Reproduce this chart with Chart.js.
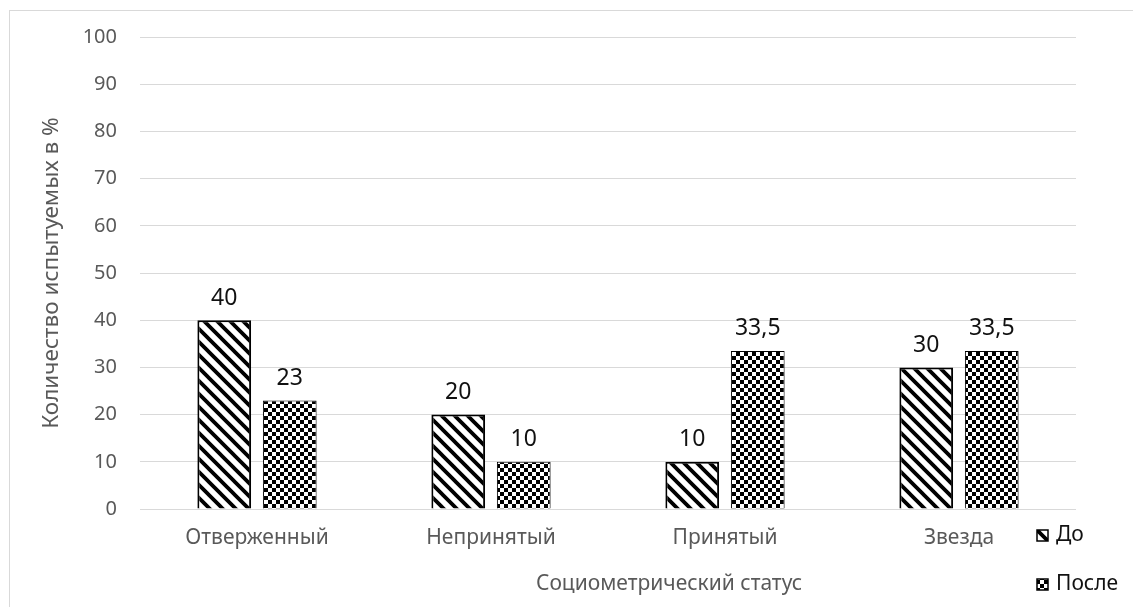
<!DOCTYPE html>
<html>
<head>
<meta charset="utf-8">
<script src="https://cdn.jsdelivr.net/npm/chart.js@4/dist/chart.umd.min.js"></script>
<style>
  body { margin: 0; background: #fff; }
</style>
</head>
<body>
<canvas id="chart" width="1133" height="607"></canvas>
<script>
// данные диаграммы
const categories = ['Отверженный', 'Непринятый', 'Принятый', 'Звезда'];
const seriesNames = ['До', 'После'];
const before = [40, 20, 10, 30];
const after = [23, 10, 33.5, 33.5];
const yTicks = [0, 10, 20, 30, 40, 50, 60, 70, 80, 90, 100];
const xTitle = 'Социометрический статус';
const yTitle = 'Количество испытуемых в %';

const FONT = '"Noto Sans", "DejaVu Sans", sans-serif';

// штриховка "\" для "До"
function stripePattern() {
    const s = 13;
    const c = document.createElement('canvas');
    c.width = s; c.height = s;
    const g = c.getContext('2d');
    g.fillStyle = '#fff';
    g.fillRect(0, 0, s, s);
    g.strokeStyle = '#000';
    g.lineWidth = 3.8;
    g.beginPath();
    for (let k = -1; k <= 1; k++) {
        g.moveTo(-s, -s + k * s);
        g.lineTo(2 * s, 2 * s + k * s);
    }
    g.stroke();
    return g.createPattern(c, 'repeat');
}

// шахматка для "После"
function checkerPattern() {
    const q = 4;
    const c = document.createElement('canvas');
    c.width = q * 2; c.height = q * 2;
    const g = c.getContext('2d');
    g.fillStyle = '#fff';
    g.fillRect(0, 0, q * 2, q * 2);
    g.fillStyle = '#000';
    g.fillRect(0, 0, q, q);
    g.fillRect(q, q, q, q);
    return g.createPattern(c, 'repeat');
}

const ctx = document.getElementById('chart').getContext('2d');
const patterns = [stripePattern(), checkerPattern()];

// рамка, подписи значений, название оси X и легенда
const extras = {
    id: 'extras',
    beforeDraw(chart) {
        const c = chart.ctx;
        c.save();
        c.fillStyle = '#fff';
        c.fillRect(0, 0, chart.width, chart.height);
        c.strokeStyle = '#d9d9d9';
        c.lineWidth = 1;
        c.strokeRect(9.5, 10.5, chart.width + 20, chart.height + 20);
        c.restore();
    },
    afterDatasetsDraw(chart) {
        const c = chart.ctx;
        c.save();
        c.font = '23px ' + FONT;
        c.fillStyle = '#111';
        c.textAlign = 'center';
        c.textBaseline = 'middle';
        chart.data.datasets.forEach((ds, i) => {
            chart.getDatasetMeta(i).data.forEach((bar, j) => {
                const txt = String(ds.data[j]).replace('.', ',');
                c.fillText(txt, bar.x, bar.y - 22);
            });
        });
        c.restore();
    },
    afterDraw(chart) {
        const c = chart.ctx;
        c.save();
        // название оси X (в Excel оно смещено вправо)
        c.font = '21px ' + FONT;
        c.fillStyle = '#595959';
        c.textAlign = 'center';
        c.textBaseline = 'middle';
        c.fillText(xTitle, 669, 584);

        c.font = '21px ' + FONT;
        c.textAlign = 'left';
        const rows = [535, 584];
        chart.data.datasets.forEach((ds, i) => {
            const y = rows[i];
            c.fillStyle = ds.backgroundColor;
            c.fillRect(1037, y - 5, 11, 11);
            c.strokeStyle = '#000';
            c.lineWidth = 1.5;
            c.strokeRect(1037, y - 5, 11, 11);
            c.fillStyle = '#111';
            c.fillText(ds.label, 1056, y);
        });
        c.restore();
    }
};

new Chart(ctx, {
    type: 'bar',
    data: {
        labels: categories,
        datasets: [
            {
                label: seriesNames[0],
                data: before,
                backgroundColor: patterns[0],
                borderColor: '#000',
                borderWidth: 2,
                categoryPercentage: 0.56,
                barPercentage: 0.82,
            },
            {
                label: seriesNames[1],
                data: after,
                backgroundColor: patterns[1],
                borderColor: '#000',
                borderWidth: 1,
                categoryPercentage: 0.56,
                barPercentage: 0.82,
            },
        ],
    },
    options: {
        responsive: false,
        animation: false,
        devicePixelRatio: 1,
        layout: { padding: { left: 10, top: 37, right: 57, bottom: 0 } },
        plugins: {
            legend: { display: false },
            tooltip: { enabled: false },
        },
        scales: {
            x: {
                grid: { display: false },
                border: { display: false },
                ticks: { color: '#595959', font: { family: FONT, size: 21 }, padding: 8 },
                afterFit(axis) { axis.height = 98; },
            },
            y: {
                min: 0,
                max: 100,
                afterBuildTicks(axis) { axis.ticks = yTicks.map(v => ({ value: v })); },
                grid: { color: '#d9d9d9', lineWidth: 1, drawTicks: false },
                border: { display: false },
                ticks: { color: '#595959', font: { family: FONT, size: 20 }, padding: 23 },
                title: {
                    display: true,
                    text: yTitle,
                    color: '#595959',
                    font: { family: FONT, size: 22.5 },
                    padding: { top: 28, bottom: 0 },
                },
                afterFit(axis) { axis.width = 130; },
            },
        },
    },
    plugins: [extras],
});
</script>
</body>
</html>
